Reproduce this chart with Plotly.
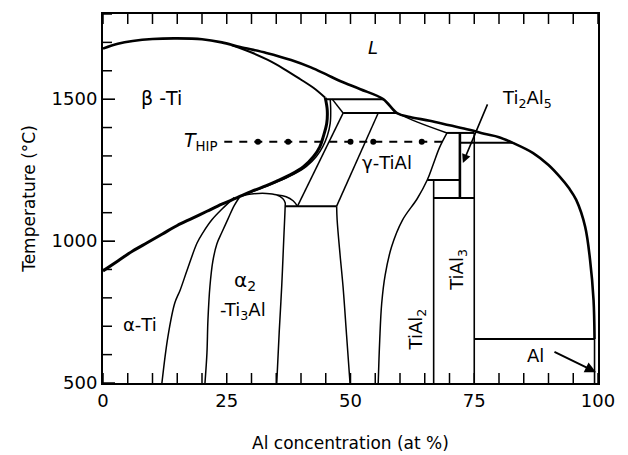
import plotly.graph_objects as go

# ---------------- data (Al at%, temperature °C) ----------------
liquidus_x = [0, 3, 6, 10, 15, 20, 24, 27.7, 33, 38, 42, 45, 48, 52, 56.6, 59.4, 62, 66, 70, 74, 77, 80, 82.8, 86.9, 90, 92.3, 94.2, 95.6, 97.4, 98.4, 99.1, 99.3]
liquidus_t = [1678, 1695, 1705, 1712, 1714, 1711, 1700, 1684, 1663, 1638, 1612, 1588, 1563, 1535, 1500, 1451, 1437, 1424, 1408, 1392, 1378, 1366, 1346, 1310, 1268, 1226, 1185, 1145, 1051, 933, 792, 655]

beta_solidus_x = [26, 29.5, 33.3, 36.5, 39.8, 42.5, 44.9]
beta_solidus_t = [1690, 1668, 1638, 1607, 1571, 1540, 1505]

beta_transus_x = [0, 3, 6, 9, 12, 15, 18, 21, 24, 27, 30, 33, 35, 37.8, 40.5, 42.5, 43.8, 44.5, 45.2, 45.3, 44.9]
beta_transus_t = [895, 930, 965, 995, 1025, 1055, 1080, 1105, 1130, 1152, 1175, 1195, 1210, 1233, 1262, 1297, 1332, 1368, 1415, 1462, 1505]

alpha_transus_x = [28.5, 31.5, 35, 38.5, 41.1, 43.1, 44.4, 45.3, 45.9, 46.0, 45.9]
alpha_transus_t = [1163, 1183, 1207, 1235, 1263, 1298, 1333, 1370, 1415, 1460, 1500]

alpha_solidus_x = [46.3, 48.5]
alpha_solidus_t = [1500, 1451]

alpha2_left_x = [27.7, 26.5, 25.3, 24, 23, 22.2, 21.6, 21.2, 21, 20.6]
alpha2_left_t = [1158, 1125, 1080, 1030, 990, 930, 840, 722, 606, 500]

alpha_alpha2_x = [26.5, 24, 22, 20.2, 19, 17, 15.6, 14.5, 13.1, 11.9]
alpha_alpha2_t = [1153, 1112, 1075, 1030, 993, 898, 828, 782, 662, 500]

alpha2_dome_x = [27.7, 30, 33, 35, 36.3, 36.8, 36.8, 36.5, 36.1, 35.6, 35.1]
alpha2_dome_t = [1158, 1166, 1168, 1163, 1150, 1135, 1123, 1000, 840, 680, 500]

alpha_loop_x = [35.2, 37, 38.4, 39.3]
alpha_loop_t = [1162, 1156, 1142, 1123]

alpha_gamma_x = [48.5, 39.3]
alpha_gamma_t = [1451, 1123]

gamma_alpha_x = [55.6, 47.2]
gamma_alpha_t = [1451, 1123]

gamma_left_x = [47.2, 47.3, 47.9, 48.5, 49.2, 49.9]
gamma_left_t = [1123, 1074, 950, 838, 670, 500]

gamma_solidus_x = [59.4, 63.4, 69.5]
gamma_solidus_t = [1451, 1420, 1381]

gamma_right_x = [69.5, 68, 66.7, 65.5, 63.5, 60.5, 58.3, 57, 56.3, 55.9, 55.6]
gamma_right_t = [1381, 1330, 1270, 1215, 1150, 1074, 980, 880, 780, 650, 500]

# invariant (horizontal) lines: (x_start, x_end, temperature)
invariant_x0 = [44.9, 48.5, 36.8, 69.5, 72.1, 65.5, 66.8, 75.0]
invariant_x1 = [56.6, 59.4, 47.2, 75.0, 82.8, 72.1, 75.0, 99.3]
invariant_t  = [1500, 1451, 1123, 1381, 1346, 1215, 1152, 655]

# compound (vertical) lines: (composition, t_top, t_bottom)
compound_x  = [66.8, 72.1, 75.0, 99.3]
compound_t0 = [1215, 1381, 1381, 655]
compound_t1 = [500, 1152, 500, 500]

thip_t = 1350
thip_x = [24.5, 68.5]
thip_dots_x = [31.3, 37.4, 50.0, 54.6, 64.4]

x_range = [0, 100]
y_range = [500, 1800]
x_major_step, x_minor_step = 25, 5
y_major_step, y_minor_step = 500, 100
x_tick_positions = list(range(0, 101, x_minor_step))
y_tick_positions = list(range(500, 1801, y_minor_step))

# ---------------- figure ----------------
FONT = "DejaVu Sans"
BLACK = "black"
THIN = 1.5
THICK = 3.0
PLOT_W, PLOT_H = 628 - 103 - 30, 455 - 14 - 72

fig = go.Figure()


def curve(xs, ys, width=THIN, smooth=True, dash="solid"):
    fig.add_trace(go.Scatter(
        x=xs, y=ys, mode="lines",
        line=dict(color=BLACK, width=width, dash=dash,
                  shape="spline" if smooth else "linear"),
        hoverinfo="skip", showlegend=False))


curve(liquidus_x, liquidus_t, width=2.6)
curve(beta_solidus_x, beta_solidus_t, width=2.0)
curve(beta_transus_x, beta_transus_t, width=THICK)
curve(alpha_transus_x, alpha_transus_t)
curve(alpha_solidus_x, alpha_solidus_t, smooth=False)
curve(alpha2_left_x, alpha2_left_t)
curve(alpha_alpha2_x, alpha_alpha2_t)
curve(alpha2_dome_x, alpha2_dome_t)
curve(alpha_loop_x, alpha_loop_t)
curve(alpha_gamma_x, alpha_gamma_t, smooth=False)
curve(gamma_alpha_x, gamma_alpha_t, smooth=False)
curve(gamma_left_x, gamma_left_t)
curve(gamma_solidus_x, gamma_solidus_t)
curve(gamma_right_x, gamma_right_t)

for x0, x1, t in zip(invariant_x0, invariant_x1, invariant_t):
    curve([x0, x1], [t, t], width=2.0, smooth=False)

for x, t0, t1 in zip(compound_x, compound_t0, compound_t1):
    w = 2.6 if x == 72.1 else 1.6
    curve([x, x], [t0, t1], width=w, smooth=False)

# T_HIP dashed line with sample dots
curve(thip_x, [thip_t, thip_t], width=2.0, smooth=False, dash="8px,7px")
fig.add_trace(go.Scatter(x=thip_dots_x, y=[thip_t] * len(thip_dots_x), mode="markers",
                         marker=dict(color=BLACK, size=6), hoverinfo="skip", showlegend=False))

# inward tick marks on the frame, drawn as a line trace on the axis scales
t_per_px = (y_range[1] - y_range[0]) / PLOT_H
x_per_px = (x_range[1] - x_range[0]) / PLOT_W
tx, ty = [], []
for xv in x_tick_positions:
    tx += [xv, xv, None, xv, xv, None]
    ty += [y_range[0], y_range[0] + 10 * t_per_px, None,
           y_range[1], y_range[1] - 10 * t_per_px, None]
for yv in y_tick_positions:
    ln = 12 if yv % y_major_step == 0 else 9
    tx += [x_range[0], x_range[0] + ln * x_per_px, None]
    ty += [yv, yv, None]
fig.add_trace(go.Scatter(x=tx, y=ty, mode="lines", connectgaps=False,
                         line=dict(color=BLACK, width=1.5),
                         hoverinfo="skip", showlegend=False))

# ---------------- labels ----------------
def label(x, y, text, size=18, angle=0, xanchor="center"):
    fig.add_annotation(x=x, y=y, text=text, showarrow=False, textangle=angle,
                       xanchor=xanchor, yanchor="middle",
                       font=dict(family=FONT, size=size, color=BLACK))


label(54.5, 1682, "<i>L</i>", size=18)
label(11.8, 1504, "β -Ti", size=19)
label(23.7, 1350, "<i>T</i><sub>HIP</sub>", size=19, xanchor="right")
label(57.4, 1278, "γ-TiAl", size=18)
label(85.6, 1500, "Ti<sub>2</sub>Al<sub>5</sub>", size=18)
label(28.7, 858, "α<sub>2</sub>", size=20)
label(28.3, 752, "-Ti<sub>3</sub>Al", size=18)
label(7.4, 706, "α-Ti", size=18)
label(63.5, 690, "TiAl<sub>2</sub>", size=18, angle=-90)
label(71.8, 900, "TiAl<sub>3</sub>", size=18, angle=-90)
label(87.4, 598, "Al", size=18)

# arrows
fig.add_annotation(x=72.7, y=1275, ax=77.8, ay=1487, axref="x", ayref="y",
                   xref="x", yref="y", text="", showarrow=True,
                   arrowhead=2, arrowsize=1.1, arrowwidth=1.6, arrowcolor=BLACK)
fig.add_annotation(x=99.6, y=538, ax=90.9, ay=612, axref="x", ayref="y",
                   xref="x", yref="y", text="", showarrow=True,
                   arrowhead=2, arrowsize=1.1, arrowwidth=2.0, arrowcolor=BLACK)

fig.update_layout(
    template="simple_white",
    width=628, height=455,
    margin=dict(l=103, r=30, t=14, b=72, autoexpand=False),
    font=dict(family=FONT, size=17, color=BLACK),
)
fig.update_xaxes(range=x_range, tick0=0, dtick=x_major_step,
                 ticks="inside", ticklen=10, tickcolor=BLACK,
                 showline=True, linewidth=2, linecolor=BLACK, mirror=True,
                 showgrid=False, zeroline=False, automargin=False,
                 tickfont=dict(family=FONT, size=18, color=BLACK),
                 title=dict(text="Al concentration (at %)", standoff=28,
                            font=dict(family=FONT, size=17, color=BLACK)))
fig.update_yaxes(range=y_range, tick0=0, dtick=y_major_step,
                 ticks="inside", ticklen=12, tickcolor=BLACK,
                 showline=True, linewidth=2, linecolor=BLACK, mirror=True,
                 showgrid=False, zeroline=False, automargin=False,
                 tickfont=dict(family=FONT, size=18, color=BLACK),
                 title=dict(text="Temperature (°C)", standoff=12,
                            font=dict(family=FONT, size=17, color=BLACK)))

fig.write_html("out.html")
